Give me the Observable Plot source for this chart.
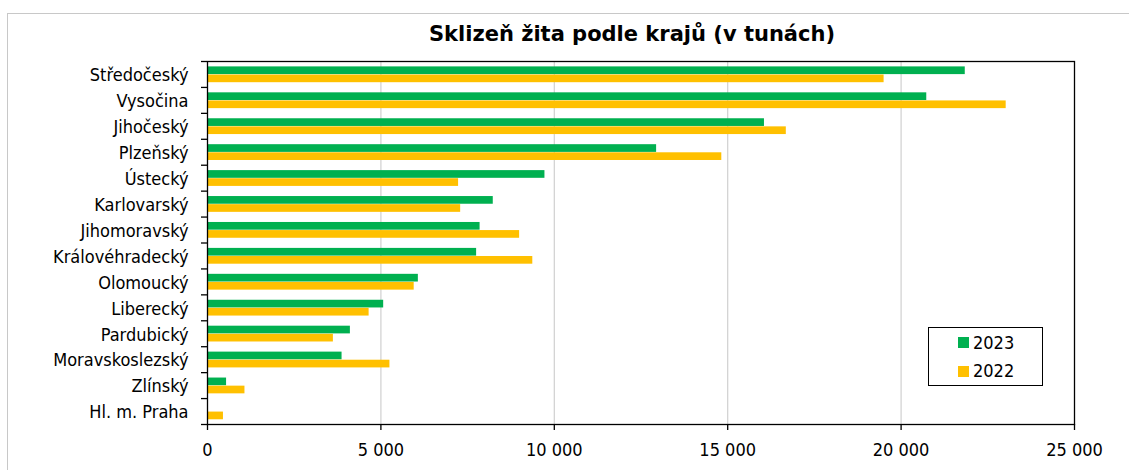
<!DOCTYPE html>
<html>
<head>
<meta charset="utf-8">
<script src="https://cdn.jsdelivr.net/npm/d3@7"></script>
<script src="https://cdn.jsdelivr.net/npm/@observablehq/plot@0.6"></script>
<style>
  html, body { margin: 0; padding: 0; background: #fff; overflow: hidden; width: 1129px; height: 470px; }
  body { position: relative; font-family: "DejaVu Sans Condensed", "DejaVu Sans", sans-serif; }
  #border { position: absolute; left: 7px; top: 13px; width: 1300px; height: 600px; border: 1px solid #c8c8c8; box-sizing: border-box; }
  #title { position: absolute; left: 0; width: 1264px; top: 22px; text-align: center; font-family: "DejaVu Sans", sans-serif; font-weight: bold; font-size: 21px; color: #000; }
  #chart { position: absolute; left: 0; top: 0; }
  #legend { position: absolute; left: 928px; top: 327px; width: 115px; height: 59px; border: 1px solid #000; box-sizing: border-box; background: #fff; font-size: 18px; }
  .item { position: absolute; left: 29px; height: 22px; line-height: 22px; display: flex; align-items: center; }
  .sw { width: 11px; height: 11px; margin-right: 4px; }
</style>
</head>
<body>
<div id="border"></div>
<div id="title">Sklizeň žita podle krajů (v tunách)</div>
<div id="chart"></div>
<div id="legend"></div>
<script>
const regions = ["Středočeský","Vysočina","Jihočeský","Plzeňský","Ústecký","Karlovarský","Jihomoravský","Královéhradecký","Olomoucký","Liberecký","Pardubický","Moravskoslezský","Zlínský","Hl. m. Praha"];
const v2023 = [21850, 20740, 16060, 12950, 9730, 8240, 7860, 7760, 6080, 5080, 4120, 3880, 550, 0];
const v2022 = [19510, 23030, 16690, 14830, 7240, 7300, 9000, 9380, 5960, 4660, 3630, 5260, 1080, 460];
const years = ["2023", "2022"];
const colors = ["#00B050", "#FFC000"];
const xTicks = [0, 5000, 10000, 15000, 20000, 25000];
const gridTicks = [5000, 10000, 15000, 20000];

const d2023 = regions.map((r, i) => ({region: r, year: "2023", value: v2023[i]}));
const d2022 = regions.map((r, i) => ({region: r, year: "2022", value: v2022[i]}));

const fmt = d => d3.format(",")(d).replace(/,/g, " ");

const marginTop = 61, marginBottom = 46;
const bw = (470 - marginTop - marginBottom) / regions.length;

const chart = Plot.plot({
  width: 1129,
  height: 470,
  marginLeft: 207,
  marginRight: 55,
  marginTop,
  marginBottom,
  style: {fontFamily: "'DejaVu Sans Condensed', 'DejaVu Sans', sans-serif", fontSize: "18px", color: "#000", background: "transparent"},
  x: {domain: [0, 25000]},
  y: {domain: regions, padding: 0, round: false},
  marks: [
    Plot.gridX(gridTicks, {stroke: "#d0d0d0", strokeOpacity: 1, strokeWidth: 1.2}),
    Plot.barX(d2023, {x: "value", y: "region", fill: colors[0], insetTop: 5.4, insetBottom: bw - 13.1}),
    Plot.barX(d2022, {x: "value", y: "region", fill: colors[1], insetTop: 13.5, insetBottom: bw - 21.2}),
    Plot.frame({stroke: "#000", strokeWidth: 1.3}),
    Plot.axisX({ticks: xTicks, tickFormat: fmt, tickSize: 6, tickPadding: 13, stroke: "#000", strokeWidth: 1.3, label: null}),
    Plot.axisY({tickSize: 0, tickPadding: 19, dy: 1, label: null}),
    Plot.axisY({tickSize: 6, text: null, dy: -bw / 2, stroke: "#000", strokeWidth: 1.3, label: null}),
    Plot.axisY({ticks: [regions[regions.length - 1]], tickSize: 6, text: null, dy: bw / 2, stroke: "#000", strokeWidth: 1.3, label: null})
  ]
});
document.getElementById("chart").appendChild(chart);

const legend = document.getElementById("legend");
years.forEach((y, i) => {
  const it = document.createElement("div");
  it.className = "item";
  it.style.top = (3.7 + i * 28.6) + "px";
  it.innerHTML = `<span class="sw" style="background:${colors[i]}"></span><span>${y}</span>`;
  legend.appendChild(it);
});
</script>
</body>
</html>
